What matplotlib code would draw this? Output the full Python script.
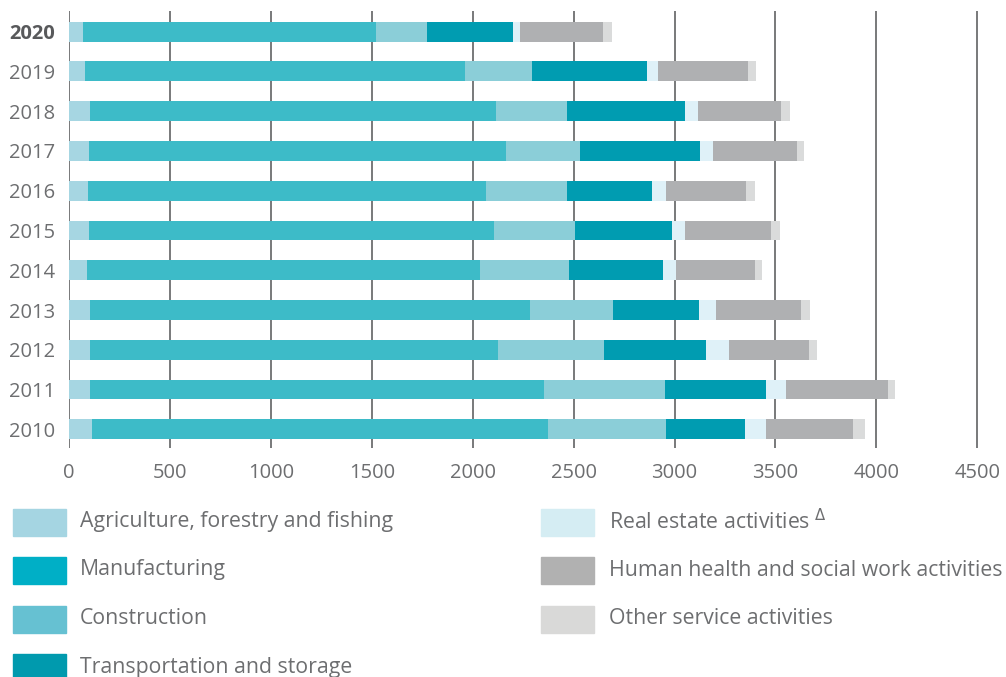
import matplotlib.pyplot as plt
from matplotlib.patches import Rectangle

plt.rcParams['font.family'] = ['Open Sans', 'DejaVu Sans']

years = ['2010', '2011', '2012', '2013', '2014', '2015', '2016', '2017', '2018', '2019', '2020']

# values per sector, 2010 -> 2020
agriculture = [112, 103, 106, 106, 88, 97, 93, 98, 104, 81, 71]
manufacturing = [2259, 2249, 2020, 2177, 1947, 2009, 1972, 2066, 2012, 1880, 1449]
construction = [586, 601, 525, 414, 443, 401, 401, 370, 350, 335, 253]
transport = [390, 499, 504, 424, 465, 480, 423, 591, 588, 565, 427]
real_estate = [104, 101, 114, 82, 63, 66, 69, 63, 61, 58, 33]
health = [433, 504, 397, 421, 392, 426, 395, 418, 412, 444, 412]
other = [57, 33, 38, 46, 35, 44, 45, 35, 43, 40, 43]

labels = ['Agriculture, forestry and fishing', 'Manufacturing', 'Construction',
          'Transportation and storage', 'Real estate activities $^{\\Delta}$',
          'Human health and social work activities', 'Other service activities']
series = [agriculture, manufacturing, construction, transport, real_estate, health, other]

bar_colors = ['#A6D6E2', '#3DBBC8', '#8BCED8', '#009CB1', '#DFF1F8', '#AFB0B2', '#DADBDB']
legend_colors = ['#A5D5E2', '#00AFC6', '#66C1D2', '#009AAE', '#D5EDF3', '#B1B1B1', '#D9D9D8']

text_gray = '#6D6E70'
W, H = 1006, 677

fig = plt.figure(figsize=(W / 100, H / 100), dpi=100)
ax = fig.add_axes([69 / W, 1 - 448 / H, (W - 69) / W, (448 - 11) / H])

ypos = list(range(len(years)))
left = [0] * len(years)
for vals, col in zip(series, bar_colors):
    ax.barh(ypos, vals, left=left, height=0.5, color=col, zorder=3)
    left = [l + v for l, v in zip(left, vals)]

ax.set_xlim(0, 4642)
ax.set_ylim(-0.47, 10.52)
ax.set_xticks(range(0, 4501, 500))
ax.set_yticks(ypos)
ax.set_yticklabels(years)
ax.grid(axis='x', color=text_gray, linewidth=1.3, zorder=0)
ax.tick_params(length=0, labelsize=14.5, colors=text_gray)
ax.tick_params(axis='y', pad=10)
ax.tick_params(axis='x', pad=11)
for s in ax.spines.values():
    s.set_visible(False)
lab = ax.get_yticklabels()[-1]
lab.set_fontweight('bold')
lab.set_color('#58595B')

# legend drawn by hand, two columns
rows_y = [522, 570, 619, 668]
for i, (lbl, col) in enumerate(zip(labels, legend_colors)):
    c, r = (0, i) if i < 4 else (1, i - 4)
    bx = 13 if c == 0 else 541
    tx = 80 if c == 0 else 609
    cy = rows_y[r]
    fig.add_artist(Rectangle((bx / W, 1 - (cy + 13.5) / H), 53 / W, 27 / H,
                             transform=fig.transFigure, color=col))
    fig.text(tx / W, 1 - cy / H, lbl, fontsize=15.3, color=text_gray, va='center')

fig.savefig('out.png', dpi=100)
